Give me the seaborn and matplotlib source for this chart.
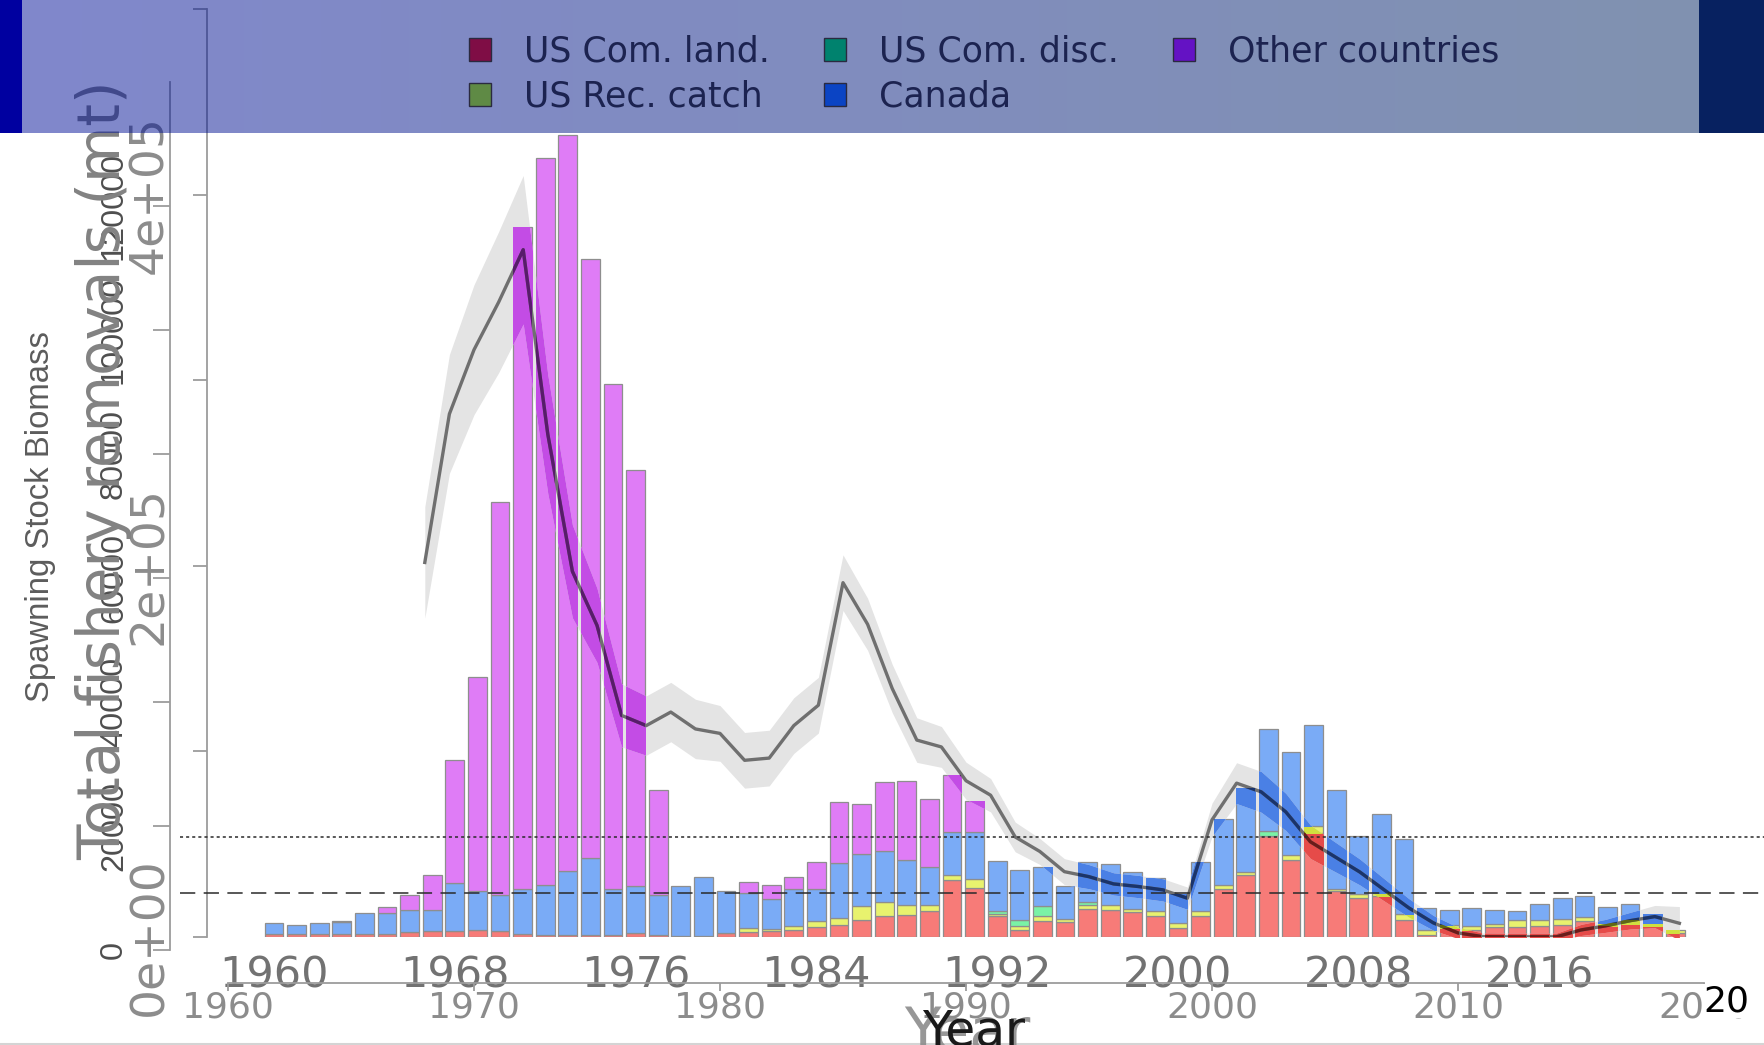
import numpy as np
import pandas as pd
import matplotlib
matplotlib.use('Agg')
import matplotlib.pyplot as plt
import seaborn as sns
from matplotlib.patches import Patch
from matplotlib.lines import Line2D
from matplotlib.transforms import blended_transform_factory
from matplotlib import font_manager

# Catch by fleet (mt), 1960-2022
years = list(range(1960, 2023))
us_com_land = [480, 480, 480, 480, 480, 480, 750, 910, 910, 1180,
               910, 540, 380, 380, 380, 380, 650, 380, 200, 200,
               650, 750, 910, 1080, 1610, 1990, 2800, 3440, 3600, 4140,
               9250, 7900, 3330, 1180, 2530, 2370, 4520, 4410, 4090, 3330,
               1450, 3330, 7740, 10050, 16340, 12470, 16780, 7370, 6290, 6560,
               2800, 270, 1450, 1180, 1610, 1610, 1720, 1990, 2530, 1830,
               2150, 1720, 650]
us_rec_catch = [0, 0, 0, 0, 0, 0, 0, 0, 0, 0,
                0, 0, 0, 0, 0, 0, 0, 0, 0, 0,
                0, 700, 380, 750, 920, 1070, 2260, 2150, 1510, 970,
                810, 1450, 300, 540, 810, 540, 700, 700, 430, 860,
                750, 910, 700, 480, 0, 700, 1080, 380, 650, 540,
                970, 910, 540, 650, 540, 1180, 1080, 970, 700, 430,
                540, 540, 430]
us_com_disc = [0, 0, 0, 0, 0, 0, 0, 0, 0, 0,
               0, 0, 0, 0, 0, 0, 0, 0, 0, 0,
               0, 0, 0, 0, 0, 0, 0, 0, 0, 0,
               0, 0, 510, 1080, 1610, 0, 430, 0, 0, 0,
               0, 0, 0, 0, 700, 0, 0, 0, 0, 0,
               0, 0, 0, 0, 0, 0, 0, 0, 0, 0,
               0, 0, 0]
canada = [1780, 1400, 1780, 1890, 3390, 3390, 3650, 3390, 7800, 6190,
          5920, 7260, 7950, 10220, 12360, 7420, 7520, 6450, 7970, 9480,
          6720, 5650, 4890, 5910, 5210, 8870, 8390, 8330, 7260, 6180,
          6830, 7530, 8060, 8060, 6290, 5260, 6450, 6720, 5960, 5330,
          4790, 7860, 10590, 13500, 16510, 16670, 16290, 16010, 9300, 12790,
          12040, 3500, 2410, 2850, 2250, 1360, 2570, 3330, 3340, 2580,
          2630, 1500, 0]
other_countries = [0, 0, 0, 160, 0, 970, 2420, 5750, 19890, 34570,
                   63340, 106700, 117370, 118800, 96660, 81470, 67160, 16940, 0, 0,
                   0, 1770, 2150, 1880, 4360, 9790, 8070, 11030, 12800, 11030,
                   9300, 5000, 0, 0, 0, 0, 0, 0, 0, 0,
                   0, 0, 0, 0, 0, 0, 0, 0, 0, 0,
                   0, 0, 0, 0, 0, 0, 0, 0, 0, 0,
                   0, 0, 0]

# Spawning stock biomass (mt) with approximate CI half width
ssb_years = list(range(1968, 2020))
ssb = [201800, 281800, 316400, 342000, 370300, 270900, 197000, 167900, 119400, 113900,
       121200, 112100, 109700, 95200, 96400, 113900, 124900, 190900, 168500, 133900,
       106100, 102400, 84200, 76400, 53900, 46100, 35200, 32500, 28600, 27200,
       25400, 20900, 63100, 82900, 78200, 67400, 51300, 43200, 35100, 25400,
       15700, 7600, 2200, 200, 100, 100, 100, 3800, 6000, 8800,
       11000, 7400]
ssb_ci = [30000, 32000, 35000, 38000, 40000, 32000, 25000, 20000, 17000, 16000,
          16000, 16000, 15000, 15000, 15000, 15000, 15000, 15000, 14000, 13000,
          12000, 11000, 10000, 9000, 8000, 7000, 7000, 6500, 6000, 6000,
          6000, 6000, 9000, 11000, 11000, 10000, 9000, 8000, 7000, 6000,
          5000, 4000, 3000, 2000, 2000, 2000, 2000, 3000, 3500, 4500,
          6000, 9000]

ssb_target = 53900
ssb_threshold = 23700

fleets = ['US Com. land.', 'US Rec. catch', 'US Com. disc.', 'Canada', 'Other countries']
bar_colors = ['#f77b78', '#e8f26e', '#7af2a6', '#7aabf6', '#df7cf6']
legend_colors = ['#7f0d45', '#5f8a45', '#00826e', '#0b44c4', '#6412c4']

catch_ticks = list(range(0, 120001, 20000))
ssb_ticks = [0, 100000, 200000, 300000, 400000, 500000]
ssb_tick_labels = ['0e+00', '', '2e+05', '', '4e+05', '']

df = pd.DataFrame({'year': years, fleets[0]: us_com_land, fleets[1]: us_rec_catch,
                   fleets[2]: us_com_disc, fleets[3]: canada, fleets[4]: other_countries})
long_df = df.melt(id_vars='year', var_name='fleet', value_name='catch')
long_df = long_df[long_df['catch'] > 0]

names = {f.name for f in font_manager.fontManager.ttflist}
NARROW = 'Liberation Sans Narrow' if 'Liberation Sans Narrow' in names else 'Liberation Sans'

W, H = 1764, 1045
PT = 72 / 100  # points per pixel at dpi 100
fig = plt.figure(figsize=(W / 100, H / 100), dpi=100)
fig.patch.set_facecolor('white')


def box(x0, y0, x1, y1):
    # pixel box, origin top-left
    return [x0 / W, 1 - y1 / H, (x1 - x0) / W, (y1 - y0) / H]


# stacked catch bars
ax_bar = fig.add_axes(box(228.8, 69, 1720.4, 937))
sns.histplot(data=long_df, x='year', weights='catch', hue='fleet', hue_order=fleets[::-1],
             palette=dict(zip(fleets, bar_colors)), multiple='stack', discrete=True,
             shrink=0.84, edgecolor='#8e8e8e', linewidth=0.9, alpha=1, legend=False, ax=ax_bar)
for p in list(ax_bar.patches):
    if p.get_height() <= 0:
        p.remove()
ax_bar.set_xlim(1958, 2024)
ax_bar.set_ylim(0, 140000)
ax_bar.set_facecolor('none')
for s in ax_bar.spines.values():
    s.set_visible(False)
ax_bar.set_yticks([])
ax_bar.set_xticks(list(range(1960, 2017, 8)))
ax_bar.tick_params(axis='x', length=0, pad=18 * PT, labelsize=31, labelcolor='#727272')
ax_bar.set_xlabel('')
ax_bar.set_ylabel('')

# spawning stock biomass
ax_ssb = fig.add_axes(box(228, 9, 1704, 937))
ax_ssb.set_facecolor('none')
lo = np.array(ssb) - np.array(ssb_ci)
hi = np.array(ssb) + np.array(ssb_ci)
ax_ssb.fill_between(ssb_years, lo, hi, color='#e4e4e4', lw=0, zorder=1)
sns.lineplot(x=ssb_years, y=ssb, color='#6f6f6f', lw=2.4, ax=ax_ssb, zorder=3)
# darker where the line and band cross the bars
for p in ax_bar.patches:
    fc = np.array(p.get_facecolor()[:3])
    band = ax_ssb.fill_between(ssb_years, lo, hi, color=fc ** 1.6 * 0.95, lw=0, zorder=2)
    band.set_clip_path(p)
    ln, = ax_ssb.plot(ssb_years, ssb, color=fc ** 2 * 0.45, lw=2.4, zorder=4)
    ln.set_clip_path(p)

ax_ssb.set_xlim(1960, 2020)
ax_ssb.set_ylim(0, 500000)
ax_ssb.spines[['top', 'right']].set_visible(False)
ax_ssb.spines['left'].set_position(('outward', 21 * PT))
ax_ssb.spines['bottom'].set_position(('outward', 46 * PT))
for s in ('left', 'bottom'):
    ax_ssb.spines[s].set_color('#9c9c9c')
    ax_ssb.spines[s].set_linewidth(1.3)
ax_ssb.set_yticks(ssb_ticks)
ax_ssb.set_yticklabels(ssb_tick_labels)
plt.setp(ax_ssb.get_yticklabels(), rotation=90, va='center')
ax_ssb.tick_params(axis='y', length=14 * PT, width=1.3, color='#9c9c9c', pad=21 * PT,
                   labelsize=34, labelcolor='#8c8c8c')
ax_ssb.set_xticks(list(range(1960, 2021, 10)))
ax_ssb.tick_params(axis='x', length=8 * PT, width=1.3, color='#9c9c9c', pad=0,
                   labelsize=26, labelcolor='#8c8c8c')
ax_ssb.set_xlabel('')
ax_ssb.set_ylabel('')

trans = blended_transform_factory(fig.transFigure, ax_ssb.transData)
ax_ssb.plot([180 / W, 1], [ssb_target, ssb_target], transform=trans, clip_on=False,
            ls=(0, (2, 2)), color='#2a2a2a', lw=1.1, zorder=6)
ax_ssb.plot([180 / W, 1], [ssb_threshold, ssb_threshold], transform=trans, clip_on=False,
            ls=(0, (10, 5.5)), color='#2a2a2a', lw=1.1, zorder=6)

# catch axis
ax_catch = fig.add_axes(box(170, 82, 180, 950))
ax_catch.set_facecolor('none')
ax_catch.set_ylim(0, 140000)
for k in ('top', 'right', 'bottom'):
    ax_catch.spines[k].set_visible(False)
ax_catch.spines['left'].set_color('#9c9c9c')
ax_catch.spines['left'].set_linewidth(1.3)
ax_catch.set_xticks([])
ax_catch.set_yticks(catch_ticks)
ax_catch.set_yticklabels([str(v) for v in catch_ticks], family=[NARROW, 'DejaVu Sans'])
plt.setp(ax_catch.get_yticklabels(), rotation=90, va='center')
ax_catch.tick_params(axis='y', length=17 * PT, width=1.3, color='#9c9c9c', pad=24 * PT,
                     labelsize=26, labelcolor='#4e4e4e')

# axis titles
t_total = fig.text(104 / W, 1 - 470 / H, 'Total fishery removals (mt)', rotation=90,
                   ha='center', va='center', fontsize=41, color='#828282')
t_ssb = fig.text(41 / W, 1 - 517 / H, 'Spawning Stock Biomass', rotation=90,
                 ha='center', va='center', fontsize=26, color='#5c5c5c',
                 family=[NARROW, 'DejaVu Sans'])
fig.text(967 / W, 1 - 1005 / H, 'Year', ha='center', va='top', fontsize=43,
         color='#8c8c8c', alpha=0.9)
fig.text(974 / W, 1 - 1007 / H, 'Year', ha='center', va='top', fontsize=35,
         color='#1a1a1a')
fig.text(1703 / W, 1 - 1001 / H, '20', ha='left', va='center', fontsize=26, color='black',
         bbox=dict(facecolor='white', edgecolor='none', pad=0))

# fit the narrow texts to the lengths seen in the original
fig.canvas.draw()
r = fig.canvas.get_renderer()
bb = t_ssb.get_window_extent(r)
t_ssb.set_fontsize(t_ssb.get_fontsize() * 370 / bb.height)
bb = t_total.get_window_extent(r)
t_total.set_fontsize(t_total.get_fontsize() * 780 / bb.height)
lab = ax_catch.get_yticklabels()[5]
bb = lab.get_window_extent(r)
ax_catch.tick_params(axis='y', labelsize=26 * 108 / bb.height)

# title bar of the slide behind the legend
ax_band = fig.add_axes([0, 1 - 133 / H, 1, 133 / H])
ax_band.set_zorder(10)
cols = np.arange(W)
frac = np.clip((cols - 22) / (1699 - 22), 0, 1)
rgba = np.zeros((1, W, 4))
rgba[0, :, 1] = 0.06 + (0.14 - 0.06) * frac
rgba[0, :, 2] = 0.60 + (0.38 - 0.60) * frac
rgba[0, :, 3] = 0.5
rgba[0, cols < 22] = [0.0, 0.0, 0.63, 1.0]
rgba[0, cols >= 1699] = [0.03, 0.13, 0.38, 1.0]
ax_band.imshow(rgba, aspect='auto', extent=(0, W, 0, 1), interpolation='nearest')
ax_band.axis('off')

handles = [Patch(facecolor=c, edgecolor='#2a2a40', linewidth=1) for c in legend_colors]
leg = fig.legend(handles, fleets, ncol=3, loc='upper left', bbox_to_anchor=(469 / W, 1 - 35 / H),
                 frameon=False, fontsize=25, labelcolor='#1c2350', handlelength=0.64,
                 handleheight=0.64, handletextpad=0.95, columnspacing=1.55,
                 labelspacing=0.3, borderpad=0, borderaxespad=0)
leg.set_zorder(20)

fig.add_artist(Line2D([0, 1], [1.5 / H, 1.5 / H], transform=fig.transFigure,
                      color='#d4d4d4', lw=1.5))

fig.savefig('out.png', dpi=100)
